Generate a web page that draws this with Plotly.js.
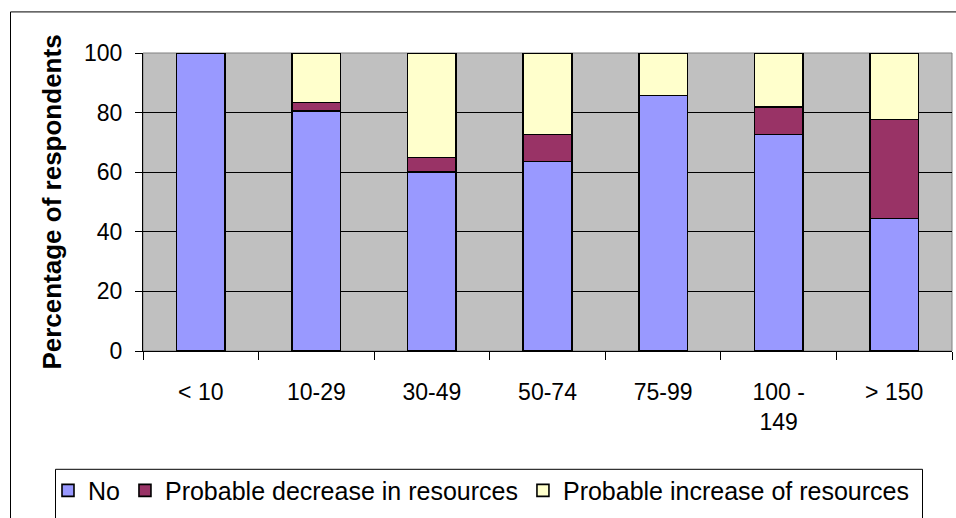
<!DOCTYPE html>
<html>
<head>
<meta charset="utf-8">
<script src="https://cdn.plot.ly/plotly-3.0.1.min.js"></script>
<style>
html,body{margin:0;padding:0;background:#fff;}
#chart{width:956px;height:518px;}
</style>
</head>
<body>
<div id="chart"></div>
<script>
const categories = ["< 10", "10-29", "30-49", "50-74", "75-99", "100 -<br>149", "> 150"];
const seriesNames = ["No", "Probable decrease in resources", "Probable increase of resources"];
const noValues = [100, 80.6, 60, 63.6, 85.7, 72.7, 44.4];
const decreaseValues = [0, 2.8, 5, 9.1, 0, 9.1, 33.3];
const increaseValues = [0, 16.6, 35, 27.3, 14.3, 18.2, 22.3];
const yTickVals = [0, 20, 40, 60, 80, 100];
const gridVals = [20, 40, 60, 80];

const colors = ["#9999FF", "#993366", "#FFFFCC"];
const FONT = '"Liberation Sans", Arial, sans-serif';

const W = 956, H = 518;
const L = 143, R = 952, T = 53, B = 354;
const pw = R - L, ph = B - T;
const px = x => (x - L) / pw;
const py = y => (B - y) / ph;

const series = [noValues, decreaseValues, increaseValues];
const traces = series.map((vals, i) => ({
  type: 'bar',
  name: seriesNames[i],
  x: categories,
  y: vals,
  width: 0.42,
  marker: {color: colors[i], line: {color: '#000', width: 1.6}},
  hoverinfo: 'skip'
}));
traces.push({type: 'scatter', x: [categories[0]], y: [0], yaxis: 'y2', mode: 'none', showlegend: false, hoverinfo: 'skip'});

const layout = {
  width: W, height: H,
  margin: {l: L, r: W - R, t: T, b: H - B},
  paper_bgcolor: '#fff',
  plot_bgcolor: '#C0C0C0',
  barmode: 'stack',
  font: {family: FONT, color: '#000', size: 23},
  showlegend: true,
  legend: {
    orientation: 'h',
    x: px(48), xanchor: 'left',
    y: py(495), yanchor: 'middle',
    font: {family: FONT, size: 25, color: '#000'},
    bgcolor: 'rgba(0,0,0,0)',
    borderwidth: 0,
    itemwidth: 30,
    traceorder: 'normal'
  },
  xaxis: {
    type: 'category',
    tickson: 'boundaries',
    ticks: 'outside', ticklen: 8, tickcolor: '#000', tickwidth: 1,
    showline: true, linecolor: '#000', linewidth: 1,
    showgrid: false,
    tickfont: {family: FONT, size: 23, color: '#000'},
    ticklabelstandoff: 20,
    fixedrange: true
  },
  yaxis: {
    range: [0, 100],
    tickvals: yTickVals,
    ticktext: yTickVals.map(String),
    ticks: 'outside', ticklen: 7, tickcolor: '#000', tickwidth: 1,
    showline: true, linecolor: '#000', linewidth: 1,
    showgrid: false, zeroline: false,
    tickfont: {family: FONT, size: 23, color: '#000'},
    ticklabelstandoff: 8,
    title: {text: 'Percentage of respondents', font: {family: FONT, size: 26, color: '#000', weight: 'bold'}, standoff: 14},
    fixedrange: true
  },
  yaxis2: {
    overlaying: 'y',
    range: [0, 100],
    tickvals: gridVals,
    showticklabels: false,
    ticks: '',
    showgrid: true, gridcolor: '#000', gridwidth: 1,
    showline: false, zeroline: false,
    fixedrange: true
  },
  shapes: [
    {type: 'rect', xref: 'paper', yref: 'paper', x0: 0, x1: 1, y0: 0, y1: 1,
     line: {color: '#808080', width: 1}, layer: 'below'},
    {type: 'rect', xref: 'paper', yref: 'paper', x0: px(10.5), x1: px(975), y0: py(11.5), y1: py(540),
     line: {color: '#000', width: 1}, fillcolor: 'rgba(0,0,0,0)'},
    {type: 'rect', xref: 'paper', yref: 'paper', x0: px(55.5), x1: px(922.5), y0: py(473.5), y1: py(540),
     line: {color: '#000', width: 1}, fillcolor: 'rgba(0,0,0,0)'}
  ]
};

Plotly.newPlot('chart', traces, layout, {displayModeBar: false, staticPlot: true});
</script>
</body>
</html>
